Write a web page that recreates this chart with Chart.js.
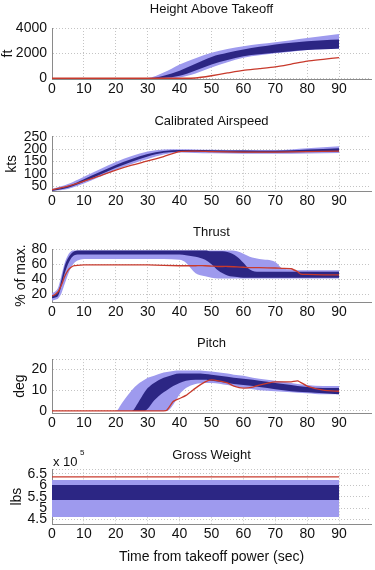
<!DOCTYPE html>
<html>
<head>
<meta charset="utf-8">
<script src="https://cdn.jsdelivr.net/npm/chart.js@4.4.0/dist/chart.umd.min.js"></script>
<style>
body { margin: 0; background: #fff; width: 375px; height: 570px; position: relative; overflow: hidden; }
canvas { position: absolute; left: 0; }
</style>
</head>
<body>
<canvas id="c1"></canvas>
<canvas id="c2"></canvas>
<canvas id="c3"></canvas>
<canvas id="c4"></canvas>
<canvas id="c5"></canvas>
<script>
const FONT = "'Liberation Sans', Arial, Helvetica, sans-serif";
const LIGHT = "rgb(158,154,238)";
const DARK = "rgb(44,38,132)";
const RED = "rgb(200,58,44)";
const GRID = "#c4c4c4";
const AXIS = "#8a8a8a";

const xTicks = [0, 10, 20, 30, 40, 50, 60, 70, 80, 90];

// Height Above Takeoff (ft)
const heightTime    = [0, 10, 20, 25, 30, 35, 40, 45, 50, 55, 60, 65, 70, 75, 80, 85, 90];
const heightLightHi = [0, 0, 0, 0, 20, 450, 1100, 1600, 2030, 2320, 2550, 2720, 2870, 3030, 3200, 3370, 3530];
const heightLightLo = [0, 0, 0, 0, 0, 0, 60, 380, 850, 1280, 1640, 1830, 1980, 2110, 2240, 2300, 2350];
const heightDarkHi  = [0, 0, 0, 0, 0, 200, 600, 1150, 1700, 2020, 2290, 2500, 2690, 2820, 2950, 3020, 3080];
const heightDarkLo  = [0, 0, 0, 0, 0, 30, 200, 620, 1100, 1450, 1760, 1920, 2030, 2140, 2240, 2300, 2370];
const heightFlight  = [0, 0, 0, 0, 0, 0, 0, 20, 200, 420, 630, 760, 900, 1130, 1370, 1510, 1640];
const heightTicks   = [0, 2000, 4000];

// Calibrated Airspeed (kts)
const speedTime    = [0, 5, 10, 15, 20, 25, 30, 35, 40, 45, 50, 60, 70, 80, 90];
const speedLightHi = [38, 58, 88, 118, 148, 172, 190, 198, 199, 198, 197, 196, 196, 204, 212];
const speedLightLo = [30, 38, 60, 88, 116, 140, 160, 178, 186, 184, 183, 181, 181, 182, 184];
const speedDarkHi  = [34, 50, 78, 107, 136, 160, 180, 192, 196, 196, 195, 194, 193, 198, 204];
const speedDarkLo  = [30, 43, 68, 96, 124, 149, 170, 185, 189, 189, 188, 186, 186, 188, 190];
const speedFlight  = [35, 50, 70, 91, 115, 135, 152, 170, 190, 192, 190, 188, 188, 190, 192];
const speedTicks   = [50, 100, 150, 200, 250];

// Thrust (% of max.)
const thrustTime    = [0, 1, 2, 3, 4, 5, 6, 7, 8, 10, 20, 30, 40, 42, 45, 48, 50, 52, 55, 58, 60, 62, 65, 70, 72, 75, 77, 78, 80, 85, 90];
const thrustLightHi = [22, 24, 30, 46, 62, 72, 77, 78, 78, 78, 78, 78, 78, 78, 78, 78, 78, 78, 78, 77, 74, 70, 67, 63, 55, 53, 52, 52, 52, 52, 52];
const thrustLightLo = [12, 13, 15, 22, 34, 46, 56, 62, 65, 67, 67, 67, 66, 62, 48, 44, 42, 41, 41, 41, 41, 41, 41, 41, 41, 41, 41, 41, 41, 41, 41];
const thrustDarkHi  = [19, 20, 24, 40, 58, 68, 74, 77, 78, 78, 78, 78, 78, 78, 78, 78, 77, 77, 76, 70, 62, 53, 50, 50, 50, 50, 50, 50, 50, 50, 50];
const thrustDarkLo  = [15, 16, 19, 32, 48, 60, 68, 72, 73, 73, 73, 73, 73, 72, 70, 66, 60, 52, 45, 43, 42, 42, 42, 42, 42, 42, 42, 42, 42, 42, 42];
const thrustFlight  = [18, 20, 24, 33, 44, 52, 56, 58, 58.5, 59, 59, 59, 58, 58, 58, 58, 57.5, 57, 57, 56.5, 56, 55.5, 55.5, 55, 54.5, 54, 50, 47, 46.5, 46, 46];
const thrustTicks   = [20, 40, 60, 80];

// Pitch (deg)
const pitchTime    = [0, 10, 20, 22, 25, 27, 29, 30, 32, 35, 36, 38, 40, 42, 45, 48, 50, 55, 57, 60, 63, 65, 70, 75, 77, 80, 85, 90];
const pitchLightHi = [0, 0, 0, 4, 10, 13, 15, 16, 17, 18.5, 18.8, 19.3, 19.5, 19.5, 19.5, 19.3, 19, 18, 17.5, 17, 16, 15.5, 14.5, 13.5, 13, 12.5, 12, 12];
const pitchLightLo = [0, 0, 0, 0, 0, 0, 0, 0, 0, 0, 0, 3, 8, 11, 13, 13.5, 13.5, 12.5, 12, 11, 10.5, 10, 9.5, 9, 8.8, 8.5, 8, 8];
const pitchDarkHi  = [0, 0, 0, 0, 0, 4, 9, 11, 13.5, 16, 16.5, 17.5, 18, 18, 18, 17.8, 17.5, 16.5, 16, 15.5, 15, 14.5, 13.5, 12.5, 12, 11.5, 11, 11];
const pitchDarkLo  = [0, 0, 0, 0, 0, 0, 0, 1, 5, 9, 10, 12, 13.5, 14.5, 15, 15, 14.5, 13.5, 13, 12.5, 12, 11.5, 10.5, 9.5, 9.2, 9, 8.5, 8];
const pitchFlight  = [0, 0, 0, 0, 0, 0, 0, 0, 0, 0, 0.3, 4.5, 6, 7.5, 11, 14, 15, 13.5, 12, 11, 11.5, 12.5, 14, 14, 14.5, 12, 10, 9.5];
const pitchTicks   = [0, 10, 20];

// Gross Weight (lbs x 10^5)
const weightTime    = [0, 90];
const weightLightHi = [6.23, 6.23];
const weightLightLo = [4.61, 4.61];
const weightDarkHi  = [6.01, 6.01];
const weightDarkLo  = [5.35, 5.35];
const weightFlight  = [6.37, 6.37];
const weightTicks   = [4.5, 5, 5.5, 6, 6.5];

function pts(t, v) {
  return t.map((x, i) => ({ x: x, y: v[i] }));
}

function band(t, v, fill, color, order) {
  return {
    data: pts(t, v), fill: fill, backgroundColor: color, borderColor: color,
    borderWidth: 0, pointRadius: 0, cubicInterpolationMode: 'monotone', order: order
  };
}

function panel(id, p) {
  const cv = document.getElementById(id);
  cv.style.top = p.top + 'px';
  cv.width = 375;
  cv.height = p.height;
  const xScale = {
    type: 'linear', min: 0, max: 100,
    afterBuildTicks: s => { s.ticks = xTicks.map(v => ({ value: v })); },
    afterFit: s => { s.height = p.xHeight; },
    ticks: { autoSkip: false, maxRotation: 0, color: '#111', padding: 2, font: { family: FONT, size: 14 } },
    grid: { color: GRID, drawTicks: false },
    border: { color: AXIS, dash: [1, 2] }
  };
  if (p.xTitle) {
    xScale.title = { display: true, text: p.xTitle, color: '#111', font: { family: FONT, size: 14 }, padding: { top: 0, bottom: 4.6 } };
  }
  return new Chart(cv, {
    type: 'line',
    data: {
      datasets: [
        band(p.t, p.lightLo, false, LIGHT, 3),
        band(p.t, p.lightHi, '-1', LIGHT, 3),
        band(p.t, p.darkLo, false, DARK, 2),
        band(p.t, p.darkHi, '-1', DARK, 2),
        { data: pts(p.t, p.flight), borderColor: RED, borderWidth: 1.3, pointRadius: 0, fill: false, tension: 0.2, order: 1 }
      ]
    },
    options: {
      responsive: false, animation: false, devicePixelRatio: 1,
      layout: { padding: { left: 0, right: 4, top: 0, bottom: 0 } },
      plugins: {
        legend: { display: false },
        tooltip: { enabled: false },
        title: {
          display: true, text: p.title, fullSize: false, color: '#111',
          font: { family: FONT, size: 13, weight: 'normal' },
          padding: { top: 2, bottom: p.titleGap }
        }
      },
      scales: {
        x: xScale,
        y: {
          min: p.min, max: p.max,
          afterBuildTicks: s => {
            const vals = p.ticks.slice();
            if (vals[vals.length - 1] < p.max) vals.push(p.max);
            s.ticks = vals.map(v => ({ value: v }));
          },
          afterFit: s => { s.width = 52; },
          ticks: {
            autoSkip: false, color: '#111', padding: 5, font: { family: FONT, size: 14 },
            callback: v => (p.ticks.indexOf(v) >= 0 ? String(v) : '')
          },
          grid: { color: GRID, drawTicks: false },
          border: { color: AXIS, dash: [1, 2] },
          title: { display: true, text: p.yTitle, color: '#111', font: { family: FONT, size: 14 }, padding: { top: p.yTitlePad, bottom: 0 } }
        }
      }
    },
    plugins: p.plugins || []
  });
}

panel('c1', {
  top: 0, height: 105, xHeight: 26, titleGap: 10.4,
  title: 'Height Above Takeoff', yTitle: 'ft', yTitlePad: 0,
  min: -60, max: 4000, ticks: heightTicks,
  t: heightTime, lightHi: heightLightHi, lightLo: heightLightLo,
  darkHi: heightDarkHi, darkLo: heightDarkLo, flight: heightFlight
});

panel('c2', {
  top: 112, height: 105, xHeight: 26, titleGap: 7.2,
  title: 'Calibrated Airspeed', yTitle: 'kts', yTitlePad: 4,
  min: 30, max: 250, ticks: speedTicks,
  t: speedTime, lightHi: speedLightHi, lightLo: speedLightLo,
  darkHi: speedDarkHi, darkLo: speedDarkLo, flight: speedFlight
});

panel('c3', {
  top: 223, height: 105, xHeight: 26, titleGap: 8.5,
  title: 'Thrust', yTitle: '% of max.', yTitlePad: 13,
  min: 10, max: 80, ticks: thrustTicks,
  t: thrustTime, lightHi: thrustLightHi, lightLo: thrustLightLo,
  darkHi: thrustDarkHi, darkLo: thrustDarkLo, flight: thrustFlight
});

panel('c4', {
  top: 334, height: 105, xHeight: 26, titleGap: 7.5,
  title: 'Pitch', yTitle: 'deg', yTitlePad: 12,
  min: -1, max: 25, ticks: pitchTicks,
  t: pitchTime, lightHi: pitchLightHi, lightLo: pitchLightLo,
  darkHi: pitchDarkHi, darkLo: pitchDarkLo, flight: pitchFlight
});

const exponentLabel = {
  id: 'exponentLabel',
  afterDraw(chart) {
    const ctx = chart.ctx;
    ctx.save();
    ctx.fillStyle = '#111';
    ctx.textBaseline = 'middle';
    ctx.textAlign = 'left';
    ctx.font = '13px ' + FONT;
    ctx.fillText('x 10', 53, 16);
    ctx.font = '8px ' + FONT;
    ctx.fillText('5', 80, 7);
    ctx.restore();
  }
};

panel('c5', {
  top: 446, height: 124, xHeight: 46, titleGap: 5.7,
  title: 'Gross Weight', yTitle: 'lbs', yTitlePad: 9,
  xTitle: 'Time from takeoff power (sec)',
  min: 4.3, max: 6.7, ticks: weightTicks,
  t: weightTime, lightHi: weightLightHi, lightLo: weightLightLo,
  darkHi: weightDarkHi, darkLo: weightDarkLo, flight: weightFlight,
  plugins: [exponentLabel]
});
</script>
</body>
</html>
